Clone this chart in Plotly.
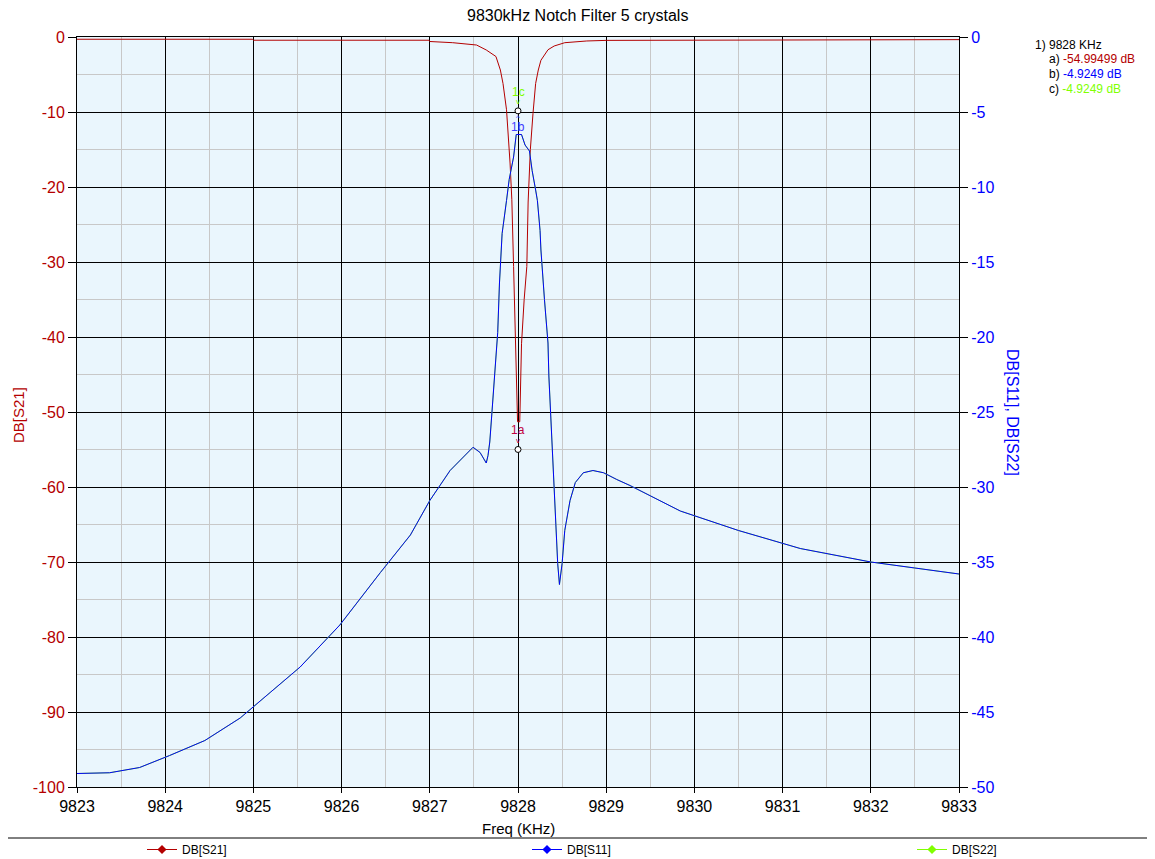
import plotly.graph_objects as go

# ---- data ----
s21_freq = [9823.0, 9824.99, 9825.0, 9826.99, 9827.0, 9827.26, 9827.53, 9827.64, 9827.75, 9827.8,
            9827.83, 9827.87, 9827.91, 9827.93, 9827.95, 9827.97, 9827.99, 9827.995, 9828.02,
            9828.04, 9828.07, 9828.1, 9828.115, 9828.125, 9828.14, 9828.17, 9828.2, 9828.23,
            9828.26, 9828.34, 9828.41, 9828.53, 9828.78, 9829.0, 9829.89, 9829.9, 9833.0]
s21_db = [-0.3, -0.3, -0.43, -0.43, -0.6, -0.76, -1.07, -1.73, -2.6, -4.4,
          -6.2, -9.7, -16.8, -21.7, -30.6, -39.5, -45.3, -51.3, -51.3,
          -40.9, -35.0, -30.6, -22.0, -19.5, -15.0, -10.2, -6.2, -4.4,
          -3.1, -1.7, -1.2, -0.76, -0.53, -0.45, -0.45, -0.35, -0.35]

s11_freq = [9823.0, 9823.37, 9823.71, 9824.05, 9824.45, 9824.85, 9825.19, 9825.53, 9825.98, 9826.44,
            9826.78, 9827.0, 9827.23, 9827.46, 9827.49, 9827.57, 9827.64, 9827.66, 9827.68, 9827.7,
            9827.74, 9827.77, 9827.79, 9827.82, 9827.87, 9827.9, 9827.95, 9827.98, 9828.04,
            9828.08, 9828.13, 9828.16, 9828.2, 9828.22, 9828.25, 9828.26, 9828.3, 9828.34, 9828.35,
            9828.37, 9828.4, 9828.43, 9828.45, 9828.47, 9828.5, 9828.53, 9828.59, 9828.65, 9828.74,
            9828.85, 9828.97, 9829.12, 9829.27, 9829.84, 9830.5, 9831.2, 9832.0, 9832.5, 9833.0]
s11_db = [-49.1, -49.05, -48.7, -47.9, -46.9, -45.4, -43.7, -42.0, -39.2, -35.7,
          -33.2, -30.9, -28.9, -27.5, -27.35, -27.7, -28.4, -27.9, -27.0, -25.4,
          -22.4, -19.7, -16.4, -13.1, -10.9, -9.5, -8.0, -6.5, -6.5,
          -7.2, -7.6, -8.9, -10.2, -10.9, -12.9, -14.2, -17.5, -20.4, -22.6,
          -25.1, -28.6, -32.9, -35.1, -36.5, -35.1, -32.9, -30.9, -29.7, -29.05,
          -28.9, -29.05, -29.5, -29.9, -31.6, -32.9, -34.1, -35.0, -35.4, -35.8]

# S22 coincides with S11 (same marker value), drawn beneath it
s22_freq = s11_freq
s22_db = s11_db

# tick labels
x_ticks = [9823, 9824, 9825, 9826, 9827, 9828, 9829, 9830, 9831, 9832, 9833]
y_left_ticks = [0, -10, -20, -30, -40, -50, -60, -70, -80, -90, -100]
y_right_ticks = [0, -5, -10, -15, -20, -25, -30, -35, -40, -45, -50]

marker_freq = 9828
marker_a = -54.99499
marker_b = -4.9249
marker_c = -4.9249

RED = "#B40000"
BLUE = "#0000FF"
GREEN = "#80FF00"
FONT = "Liberation Sans, Arial, sans-serif"

fig = go.Figure()
fig.add_trace(go.Scatter(x=s21_freq, y=s21_db, mode="lines", line=dict(color=RED, width=1),
                         name="DB[S21]", showlegend=False, yaxis="y"))
fig.add_trace(go.Scatter(x=s22_freq, y=s22_db, mode="lines", line=dict(color=GREEN, width=1),
                         name="DB[S22]", showlegend=False, yaxis="y2"))
fig.add_trace(go.Scatter(x=s11_freq, y=s11_db, mode="lines", line=dict(color=BLUE, width=1),
                         name="DB[S11]", showlegend=False, yaxis="y2"))

# marker points
fig.add_trace(go.Scatter(x=[marker_freq], y=[marker_a], mode="markers", yaxis="y", showlegend=False,
                         marker=dict(symbol="circle", size=6, color="white", line=dict(color="black", width=1))))
fig.add_trace(go.Scatter(x=[marker_freq], y=[marker_b], mode="markers", yaxis="y2", showlegend=False,
                         marker=dict(symbol="circle", size=6, color="white", line=dict(color="black", width=1))))

# legend entries (one legend each, to place them like the reference)
for nm, col, lg in [("DB[S21]", RED, "legend"), ("DB[S11]", BLUE, "legend2"), ("DB[S22]", GREEN, "legend3")]:
    fig.add_trace(go.Scatter(x=[None], y=[None], mode="lines+markers", name=nm, legend=lg,
                             line=dict(color=col, width=1), marker=dict(symbol="diamond", size=7, color=col)))

# page coordinates -> paper coordinates (plot area spans x 77..959, y 37..787 on the page)
PW, PH = 882.0, 750.0
def px(xp):
    return (xp - 77) / PW
def py(yp):
    return (787 - yp) / PH

annots = []
# marker labels
annots += [
    dict(x=marker_freq, y=marker_a, xref="x", yref="y", text="1a", showarrow=False,
         font=dict(color="#C00040", size=12, family=FONT), yshift=19),
    dict(x=marker_freq, y=marker_a, xref="x", yref="y", text="v", showarrow=False,
         font=dict(color="#C00040", size=8, family=FONT), yshift=9),
    dict(x=marker_freq, y=marker_c, xref="x", yref="y2", text="1c", showarrow=False,
         font=dict(color=GREEN, size=12, family=FONT), yshift=19),
    dict(x=marker_freq, y=marker_c, xref="x", yref="y2", text="v", showarrow=False,
         font=dict(color=GREEN, size=8, family=FONT), yshift=9),
    dict(x=marker_freq, y=marker_b, xref="x", yref="y2", text="1b", showarrow=False,
         font=dict(color="#4040FF", size=12, family=FONT), yshift=-16),
    dict(x=marker_freq, y=marker_b, xref="x", yref="y2", text="^", showarrow=False,
         font=dict(color="#4040FF", size=8, family=FONT), yshift=-7),
]
# marker readout box
annots += [
    dict(x=px(1033), y=py(45), xref="paper", yref="paper", xanchor="left", yanchor="middle",
         text=f"1) {marker_freq} KHz", showarrow=False, font=dict(color="black", size=12, family=FONT)),
    dict(x=px(1047), y=py(59), xref="paper", yref="paper", xanchor="left", yanchor="middle",
         text=f"a) <span style='color:{RED}'>{marker_a} dB</span>", showarrow=False,
         font=dict(color="black", size=12, family=FONT)),
    dict(x=px(1047), y=py(74), xref="paper", yref="paper", xanchor="left", yanchor="middle",
         text=f"b) <span style='color:{BLUE}'>{marker_b} dB</span>", showarrow=False,
         font=dict(color="black", size=12, family=FONT)),
    dict(x=px(1047), y=py(89), xref="paper", yref="paper", xanchor="left", yanchor="middle",
         text=f"c) <span style='color:{GREEN}'>{marker_c} dB</span>", showarrow=False,
         font=dict(color="black", size=12, family=FONT)),
]
# axis titles and chart title
annots += [
    dict(x=px(18), y=py(415), xref="paper", yref="paper", xanchor="center", yanchor="middle",
         text="DB[S21]", textangle=-90, showarrow=False, font=dict(color=RED, size=15, family=FONT)),
    dict(x=px(1013), y=py(412), xref="paper", yref="paper", xanchor="center", yanchor="middle",
         text="DB[S11], DB[S22]", textangle=90, showarrow=False, font=dict(color=BLUE, size=16, family=FONT)),
    dict(x=px(518), y=py(828), xref="paper", yref="paper", xanchor="center", yanchor="middle",
         text="Freq (KHz)", showarrow=False, font=dict(color="black", size=15, family=FONT)),
    dict(x=px(577), y=py(16), xref="paper", yref="paper", xanchor="center", yanchor="middle",
         text="9830kHz Notch Filter 5 crystals", showarrow=False,
         font=dict(color="black", size=16, family=FONT)),
]

legend_common = dict(orientation="h", xanchor="left", yanchor="top", font=dict(size=12, family=FONT),
                     bgcolor="rgba(0,0,0,0)", itemclick=False, itemdoubleclick=False)

# the page has an 8px body margin, so the figure is 8px smaller and margins are offset by 8
fig.update_layout(
    width=1147, height=851,
    margin=dict(l=69, r=196, t=29, b=72, autoexpand=False),
    paper_bgcolor="white",
    plot_bgcolor="#EAF6FD",
    font=dict(family=FONT, size=16, color="black"),
    xaxis=dict(range=[9823, 9833], tickvals=x_ticks, ticktext=[str(v) for v in x_ticks],
               showgrid=True, gridcolor="black", gridwidth=1,
               minor=dict(dtick=0.5, showgrid=True, gridcolor="#C8C8C8", gridwidth=1),
               ticks="outside", ticklen=5, tickcolor="black", showline=True, linecolor="black",
               linewidth=1, mirror=True, zeroline=False, tickfont=dict(size=16, color="black")),
    yaxis=dict(range=[-100, 0], tickvals=y_left_ticks, ticktext=[str(v) for v in y_left_ticks],
               showgrid=True, gridcolor="black", gridwidth=1,
               minor=dict(dtick=5, showgrid=True, gridcolor="#C8C8C8", gridwidth=1),
               ticks="outside", ticklen=8, tickcolor="black", showline=True, linecolor="black",
               linewidth=1, mirror=True, zeroline=False, tickfont=dict(size=16, color=RED)),
    yaxis2=dict(range=[-50, 0], tickvals=y_right_ticks, ticktext=[str(v) for v in y_right_ticks],
                overlaying="y", side="right", showgrid=False,
                ticks="outside", ticklen=8, tickcolor="black", showline=True, linecolor="black",
                linewidth=1, zeroline=False, tickfont=dict(size=16, color=BLUE)),
    legend=dict(x=px(142), y=py(835), **legend_common),
    legend2=dict(x=px(527), y=py(835), **legend_common),
    legend3=dict(x=px(912), y=py(835), **legend_common),
    annotations=annots,
    shapes=[dict(type="line", xref="paper", yref="paper", x0=px(0), x1=px(1155), y0=py(838), y1=py(838),
                 line=dict(color="black", width=1))],
)

fig.write_html("out.html")
